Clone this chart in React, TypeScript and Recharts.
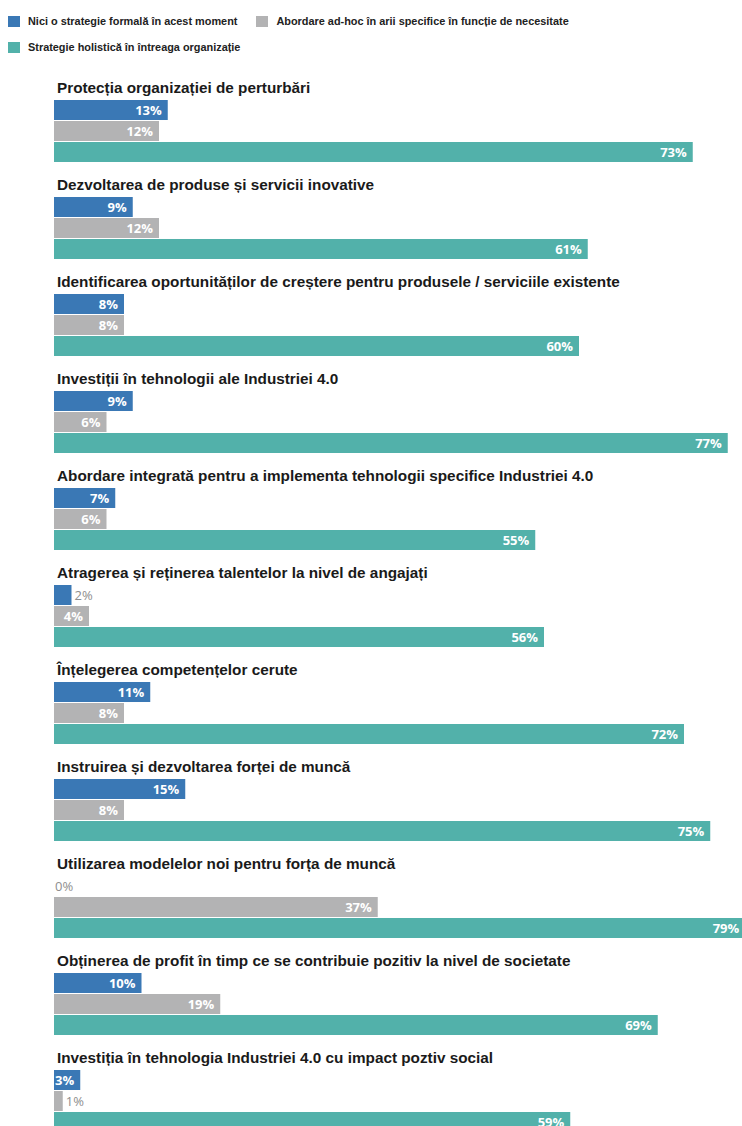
import React from 'react';
import { BarChart, Bar, XAxis, YAxis, Legend, LabelList } from 'recharts';

const categories = [
  'Protecția organizației de perturbări',
  'Dezvoltarea de produse și servicii inovative',
  'Identificarea oportunităților de creștere pentru produsele / serviciile existente',
  'Investiții în tehnologii ale Industriei 4.0',
  'Abordare integrată pentru a implementa tehnologii specifice Industriei 4.0',
  'Atragerea și reținerea talentelor la nivel de angajați',
  'Înțelegerea competențelor cerute',
  'Instruirea și dezvoltarea forței de muncă',
  'Utilizarea modelelor noi pentru forța de muncă',
  'Obținerea de profit în timp ce se contribuie pozitiv la nivel de societate',
  'Investiția în tehnologia Industriei 4.0 cu impact poztiv social',
];

const noStrategy = [13, 9, 8, 9, 7, 2, 11, 15, 0, 10, 3];
const adHoc = [12, 12, 8, 6, 6, 4, 8, 8, 37, 19, 1];
const holistic = [73, 61, 60, 77, 55, 56, 72, 75, 79, 69, 59];

const seriesNames = [
  'Nici o strategie formală în acest moment',
  'Abordare ad-hoc în arii specifice în funcție de necesitate',
  'Strategie holistică în întreaga organizație',
];
const colors = ['#3a78b5', '#b3b3b4', '#52b1aa'];

const data = categories.map((name, i) => ({
  name,
  a: noStrategy[i],
  b: adHoc[i],
  c: holistic[i],
}));

const FONT = '"Liberation Sans", Arial, sans-serif';
const LABEL_FONT = '"Open Sans", sans-serif';
const BAR_SIZE = 20;
const BAR_GAP = 1;

const OutsideText = ({ x, y, children }: any) => (
  <text x={x} y={y} dominantBaseline="central" textAnchor="start"
    fontFamily={LABEL_FONT} fontSize={13} fill="#8e8e8e">
    {children}
  </text>
);

const BarLabel = (props: any) => {
  const { x, y, width, height, value } = props;
  const cy = Number(y) + Number(height) / 2;
  const end = Number(x) + Number(width);
  if (value === 0) return null;
  if (value <= 2) {
    return <OutsideText x={end + 3} y={cy}>{value}%</OutsideText>;
  }
  return (
    <text x={end - 6} y={cy} dominantBaseline="central" textAnchor="end"
      fontFamily={LABEL_FONT} fontWeight={700} fontSize={13} fill="#ffffff">
      {value}%
    </text>
  );
};

// Zero-valued first-series bars have no rectangle; place their label in the row above the grey bar.
const ZeroLabel = (props: any) => {
  const { x, y, height, value } = props;
  if (value !== 0) return null;
  const cy = Number(y) + Number(height) / 2 - (BAR_SIZE + BAR_GAP);
  return <OutsideText x={Number(x) + 1} y={cy}>{value}%</OutsideText>;
};

const TitleTick = (props: any) => {
  const { x, y, payload } = props;
  return (
    <text x={Number(x) + 3} y={Number(y) - 37.5} textAnchor="start" fontFamily={FONT}
      fontWeight={700} fontSize={15.3} fill="#1a1a1a">
      {payload.value}
    </text>
  );
};

const LegendContent = () => (
  <div style={{ display: 'flex', flexWrap: 'wrap', columnGap: 19, width: 734, paddingLeft: 8, paddingTop: 8, boxSizing: 'content-box' }}>
    {seriesNames.map((name, i) => (
      <div key={i} style={{ display: 'flex', alignItems: 'center', height: 26 }}>
        <span style={{ display: 'inline-block', width: 12, height: 11, background: colors[i], marginRight: 8 }} />
        <span style={{ fontFamily: FONT, fontWeight: 700, fontSize: 10.9, color: '#222' }}>{name}</span>
      </div>
    ))}
  </div>
);

export default function App() {
  return (
    <div style={{ position: 'absolute', left: 0, top: 0, width: 742, height: 1126, overflow: 'hidden', background: '#fff' }}>
      <BarChart
        width={950}
        height={1170}
        data={data}
        layout="vertical"
        margin={{ top: 82, right: 21, bottom: 21, left: 0 }}
        barSize={BAR_SIZE}
        barGap={BAR_GAP}
      >
        <XAxis type="number" domain={[0, 100]} hide />
        <YAxis
          type="category"
          dataKey="name"
          width={54}
          axisLine={false}
          tickLine={false}
          tickSize={0}
          tickMargin={0}
          tick={<TitleTick />}
          interval={0}
        />
        <Legend
          verticalAlign="middle"
          align="center"
          content={<LegendContent />}
          wrapperStyle={{ top: 0, left: 0, width: 742 }}
        />
        <Bar dataKey="a" name={seriesNames[0]} fill={colors[0]} isAnimationActive={false}>
          <LabelList dataKey="a" content={<BarLabel />} />
        </Bar>
        <Bar dataKey="b" name={seriesNames[1]} fill={colors[1]} isAnimationActive={false}>
          <LabelList dataKey="b" content={<BarLabel />} />
          <LabelList dataKey="a" content={<ZeroLabel />} />
        </Bar>
        <Bar dataKey="c" name={seriesNames[2]} fill={colors[2]} isAnimationActive={false}>
          <LabelList dataKey="c" content={<BarLabel />} />
        </Bar>
      </BarChart>
    </div>
  );
}
